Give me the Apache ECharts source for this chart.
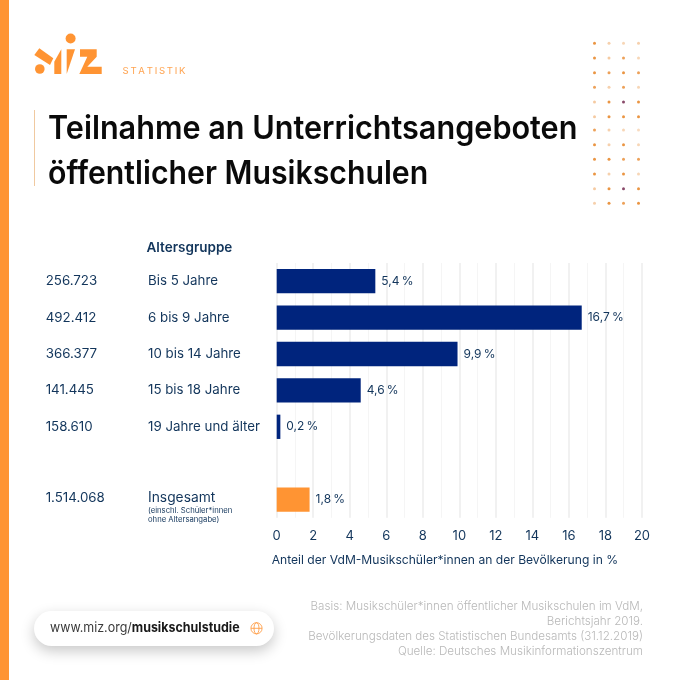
<!DOCTYPE html>
<html><head><meta charset="utf-8">
<style>html,body{margin:0;padding:0;background:#fff}#c{width:680px;height:680px}</style>
<script src="https://cdn.jsdelivr.net/npm/echarts@6/dist/echarts.min.js"></script>
</head><body><div id="c"></div>
<script>
const categories = ['Bis 5 Jahre','6 bis 9 Jahre','10 bis 14 Jahre','15 bis 18 Jahre','19 Jahre und älter','','Insgesamt'];
const counts = ['256.723','492.412','366.377','141.445','158.610','','1.514.068'];
const shares = [5.4,16.7,9.9,4.6,0.2,null,1.8];
const titleLines = ['Teilnahme an Unterrichtsangeboten','öffentlicher Musikschulen'];
const titleScale = [.956,.945];
const sourceLines = ['Basis: Musikschüler*innen öffentlicher Musikschulen im VdM,','Berichtsjahr 2019.','Bevölkerungsdaten des Statistischen Bundesamts (31.12.2019)','Quelle: Deutsches Musikinformationszentrum'];
const dotOpacity = [
 [.9,.4,.35,.4],[.9,.45,.8,.35],[.9,.8,.9,.8],[.8,.4,.8,.35],[.45,.9,1,.9],[.45,.9,.9,.9],
 [.8,.4,.35,.3],[.9,.4,.9,.35],[.9,.9,.8,.8],[.9,.4,.9,.35],[.45,.9,1,.9],[.4,.9,.8,.9]];
const dotRows = [43.3,58,72.7,87.3,102,116.7,130,144.7,159.3,174,188.7,203.3];
const dotCols = [594.5,609,623.5,638.5];

const NAVY='#12355b', ORANGE='#ff9433', BLUE='#00247d', FONT='Inter, "Noto Sans", sans-serif';
const g=[];
g.push({type:'rect',shape:{x:0,y:0,width:9,height:680},style:{fill:ORANGE}});
// logo
const logoStyle={fill:ORANGE};
g.push({type:'circle',shape:{cx:70.6,cy:38.5,r:5},style:logoStyle});
g.push({type:'circle',shape:{cx:39.8,cy:69,r:4.8},style:logoStyle});
g.push({type:'polygon',shape:{points:[[39.3,48.3],[34.3,55],[50,65],[53.3,58.3]]},style:logoStyle});
g.push({type:'polygon',shape:{points:[[61.3,49.3],[61.3,74],[54.3,74],[54.3,61.7]]},style:logoStyle});
g.push({type:'polygon',shape:{points:[[66.7,49.3],[75,49.3],[66.7,74]]},style:logoStyle});
g.push({type:'polygon',shape:{points:[[80,49.3],[96.7,49.3],[96.7,56.7],[87.3,66.7],[101.7,66.7],[101.7,74],[79.3,74],[87.3,56.7],[80,56.7]]},style:logoStyle});
g.push({type:'text',x:122.5,y:70.7,style:{text:'S\u2009T\u2009A\u2009T\u2009I\u2009S\u2009T\u2009I\u2009K',font:'400 9.6px '+FONT,fill:ORANGE,opacity:.85,textVerticalAlign:'middle'}});
// title
g.push({type:'rect',shape:{x:34,y:110,width:1,height:76},style:{fill:'#f0c9a0'}});
titleLines.forEach((t,i)=>g.push({type:'text',x:48,y:129+i*45.7,scaleX:titleScale[i],style:{text:t,font:'600 32px '+FONT,fill:'#0a0a0a',textVerticalAlign:'middle'}}));
// dots
dotRows.forEach((y,r)=>dotCols.forEach((x,c)=>{const o=dotOpacity[r][c];
 g.push({type:'circle',shape:{cx:x,cy:y,r:1.5},style:{fill:o===1?'#8a4a6a':'#e8892f',opacity:o}});}));
// column heading
g.push({type:'text',x:146.5,y:248,style:{text:'Altersgruppe',font:'600 13.5px '+FONT,fill:NAVY,textVerticalAlign:'middle'}});
// note under Insgesamt
g.push({type:'text',x:148,y:510.7,style:{text:'(einschl. Schüler*innen',font:'400 7.7px '+FONT,fill:NAVY,textVerticalAlign:'middle'}});
g.push({type:'text',x:148,y:519.3,style:{text:'ohne Altersangabe)',font:'400 7.7px '+FONT,fill:NAVY,textVerticalAlign:'middle'}});
// pill
g.push({type:'rect',shape:{x:34,y:611,width:240,height:35,r:17.5},style:{fill:'#fff',shadowBlur:14,shadowColor:'rgba(0,0,0,.22)',shadowOffsetY:5}});
g.push({type:'text',x:50,y:628,scaleX:.945,style:{rich:{a:{font:'400 13.2px '+FONT,fill:'#3a3a3a'},b:{font:'700 13.2px '+FONT,fill:'#1a1a1a'}},text:'{a|www.miz.org/}{b|musikschulstudie}',textVerticalAlign:'middle'}});
const gl={stroke:ORANGE,fill:'none',lineWidth:1,opacity:.8};
g.push({type:'circle',shape:{cx:256.5,cy:628.3,r:5.6},style:gl});
g.push({type:'ellipse',shape:{cx:256.5,cy:628.3,rx:2.5,ry:5.6},style:gl});
g.push({type:'line',shape:{x1:251,y1:628.3,x2:262,y2:628.3},style:gl});
// source
sourceLines.forEach((t,i)=>g.push({type:'text',x:643,y:606.7+i*15,scaleX:.945,style:{text:t,font:'300 12.3px '+FONT,fill:'#b8b8b8',textAlign:'right',textVerticalAlign:'middle'}}));

const lift=(v,i)=>i===6?'{u|'+v+'}':v;
const chart=echarts.init(document.getElementById('c'),null,{renderer:'canvas'});
chart.setOption({
 animation:false,
 backgroundColor:'#fff',
 grid:{left:276.7,top:263,width:365.3,height:254.8,containLabel:false},
 xAxis:{type:'value',min:0,max:20,interval:2,
  name:'Anteil der VdM-Musikschüler*innen an der Bevölkerung in %',nameLocation:'start',
  nameGap:0,nameTextStyle:{fontFamily:'Inter',fontSize:12.1,color:NAVY,align:'left',verticalAlign:'top',padding:[37,0,0,-5]},
  axisLine:{show:false},axisTick:{show:false},
  axisLabel:{color:NAVY,fontFamily:'Inter',fontSize:13,margin:12},
  splitLine:{show:true,lineStyle:{color:'#ececec',width:1.5}},
  minorTick:{show:false,splitNumber:2},
  minorSplitLine:{show:true,lineStyle:{color:'#f5f5f5',width:1}}},
 yAxis:[
  {type:'category',inverse:true,data:categories,position:'left',
   axisLine:{show:false},axisTick:{show:false},splitLine:{show:false},
   axisLabel:{align:'left',margin:128.7,color:NAVY,fontFamily:'Inter',fontSize:13.3,formatter:lift,
    rich:{u:{fontFamily:'Inter',fontSize:13.8,color:NAVY,padding:[0,0,4,0]}}}},
  {type:'category',inverse:true,data:counts,position:'left',
   axisLine:{show:false},axisTick:{show:false},splitLine:{show:false},
   axisLabel:{align:'left',margin:231,color:NAVY,fontFamily:'Inter',fontSize:13.3,formatter:lift,
    rich:{u:{fontFamily:'Inter',fontSize:13.3,color:NAVY,padding:[0,0,4,0]}}}}
 ],
 series:[{type:'bar',barWidth:24.3,yAxisIndex:0,
  data:shares.map((v,i)=>({value:v,itemStyle:{color:i===6?ORANGE:BLUE}})),
  label:{show:true,position:'right',distance:6,color:NAVY,fontFamily:'Inter',fontSize:12,
   formatter:p=>String(p.value).replace('.',',')+'\u2009%'}}],
 graphic:{elements:g}
});
</script></body></html>
